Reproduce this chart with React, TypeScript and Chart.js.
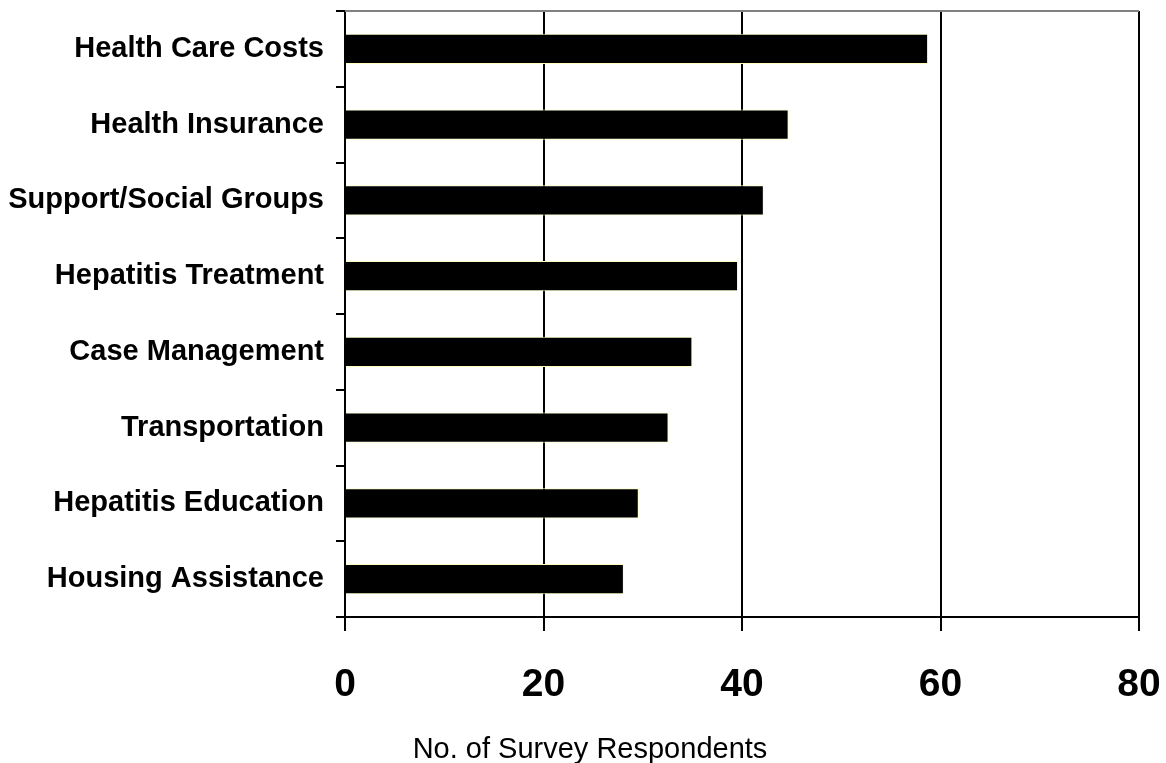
import React, { useEffect, useRef } from "react";
import { Chart, registerables } from "chart.js";

Chart.register(...registerables);

// Services ranked by number of survey respondents
const categories = [
  "Health Care Costs",
  "Health Insurance",
  "Support/Social Groups",
  "Hepatitis Treatment",
  "Case Management",
  "Transportation",
  "Hepatitis Education",
  "Housing Assistance",
];
const respondents = [58.75, 44.7, 42.2, 39.6, 35.0, 32.6, 29.6, 28.1];
const xTicks = [0, 20, 40, 60, 80];
const xTitle = "No. of Survey Respondents";

const FONT = "'Liberation Sans', Arial, Helvetica, sans-serif";

// Grey top edge of the plot frame and the horizontal axis caption
const frame = {
  id: "frame",
  afterDraw(chart: Chart) {
    const { ctx, chartArea } = chart;
    ctx.save();
    ctx.lineWidth = 2;
    ctx.strokeStyle = "#808080";
    ctx.beginPath();
    ctx.moveTo(chartArea.left, chartArea.top);
    ctx.lineTo(chartArea.right, chartArea.top);
    ctx.stroke();

    ctx.fillStyle = "#000000";
    ctx.font = `normal 29px ${FONT}`;
    ctx.textAlign = "center";
    ctx.textBaseline = "middle";
    ctx.fillText(xTitle, chart.width / 2 + 7, chart.height - 13);
    ctx.restore();
  },
};

export default function App() {
  const ref = useRef<HTMLCanvasElement | null>(null);

  useEffect(() => {
    if (!ref.current) return;
    const chart = new Chart(ref.current, {
      type: "bar",
      data: {
        labels: categories,
        datasets: [
          {
            data: respondents,
            backgroundColor: "#000000",
            borderColor: "#ffffc0",
            borderWidth: 1,
            barPercentage: 0.4,
            categoryPercentage: 1,
          },
        ],
      },
      options: {
        indexAxis: "y",
        responsive: false,
        animation: false,
        layout: { padding: { top: 11, right: 27, left: 0, bottom: 0 } },
        plugins: {
          legend: { display: false },
          tooltip: { enabled: false },
          title: { display: false },
        },
        scales: {
          x: {
            min: 0,
            max: 80,
            afterBuildTicks(scale: any) {
              scale.ticks = xTicks.map((v) => ({ value: v }));
            },
            afterFit(scale: any) {
              scale.height = 146;
              scale.paddingLeft = 0;
              scale.paddingRight = 0;
            },
            grid: {
              color: "#000000",
              lineWidth: 2,
              tickLength: 14,
              drawOnChartArea: true,
            },
            border: { display: true, color: "#000000", width: 2 },
            ticks: {
              color: "#000000",
              padding: 35,
              font: { family: FONT, size: 39, weight: "bold", lineHeight: 1 },
            },
          },
          y: {
            z: 1,
            afterFit(scale: any) {
              scale.width = 345;
              scale.paddingTop = 0;
              scale.paddingBottom = 0;
            },
            grid: {
              color: "#000000",
              lineWidth: 2,
              tickLength: 9,
              drawOnChartArea: false,
              offset: true,
            },
            border: { display: true, color: "#000000", width: 2 },
            ticks: {
              color: "#000000",
              padding: 12,
              font: { family: FONT, size: 29, weight: "bold" },
            },
          },
        },
      },
      plugins: [frame],
    });
    return () => chart.destroy();
  }, []);

  return (
    <div style={{ position: "absolute", left: 0, top: 0, width: 1166, height: 763, background: "#ffffff" }}>
      <canvas ref={ref} width={1166} height={763} style={{ display: "block" }} />
    </div>
  );
}
